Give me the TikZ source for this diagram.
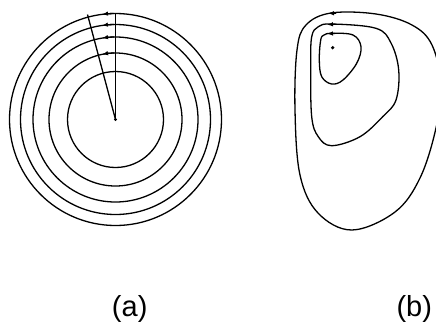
\documentclass[tikz,border=0pt]{standalone}
\usepackage{fontspec}
\setmainfont{Liberation Sans}
\usetikzlibrary{arrows.meta}
\begin{document}
\begin{tikzpicture}[x=1pt,y=-1pt,
  curve/.style={line width=1.3pt,black},
  tipline/.style={line width=1.3pt,-{Latex[length=6pt,width=4.5pt]}},
  lbl/.style={font=\fontsize{29}{34}\selectfont,anchor=base,inner sep=0pt}]
\useasboundingbox (0,0) rectangle (436,322);
\clip (0,0) rectangle (436,322);
% (a) concentric circles
\coordinate (c) at (115.5,119.5);
\foreach \r in {106,95,82.5,66.5,48}{
  \draw[curve] (c) circle[radius=\r];
}
\foreach \r/\a in {106/97.3,95/98.2,82.5/99.4,66.5/101.7}{
  \draw[tipline] (c) ++(-91:\r) arc[start angle=-91,end angle=-\a,radius=\r];
}
\coordinate (vtop) at (115.5,13);
\coordinate (stop) at (87.5,14.5);
\draw[curve] (c) -- (vtop);
\draw[curve] (c) -- (stop);
\fill (c) circle[radius=1.6];
% (b) nested closed curves
\draw[curve] plot[smooth cycle,tension=0.6] coordinates{
 (331,13) (376,14) (412,25) (432,45) (441,85) (436,128) (420,178) (395,212)
 (352,230) (318,213) (300,175) (295,110) (297,50) (306,25)};
\draw[curve] plot[smooth cycle,tension=0.6] coordinates{
 (331.7,24) (376,28.3) (391,43) (398.7,70) (396,100) (382.7,116.7) (360,136.7)
 (331.7,145.7) (318.3,136.7) (311.7,116.7) (310.7,66.7) (311.7,36.7) (318.3,26.7)};
\draw[curve] plot[smooth cycle,tension=0.6] coordinates{
 (331.7,33.3) (353,35) (361,46.7) (356.7,63.3) (343,80) (331.7,84) (321.7,76.7)
 (319.3,60) (320.7,40) (324,35)};
\draw[tipline] (336,13.2) -- (328,13.4);
\draw[tipline] (335,24.2) -- (327,24.6);
\draw[tipline] (335,33.4) -- (327,33.8);
\fill (332.7,47.7) circle[radius=1.8];
% labels
\node[lbl] (la) at (129.7,316) {(a)};
\node[lbl] (lb) at (414.3,316) {(b)};
\end{tikzpicture}
\end{document}
